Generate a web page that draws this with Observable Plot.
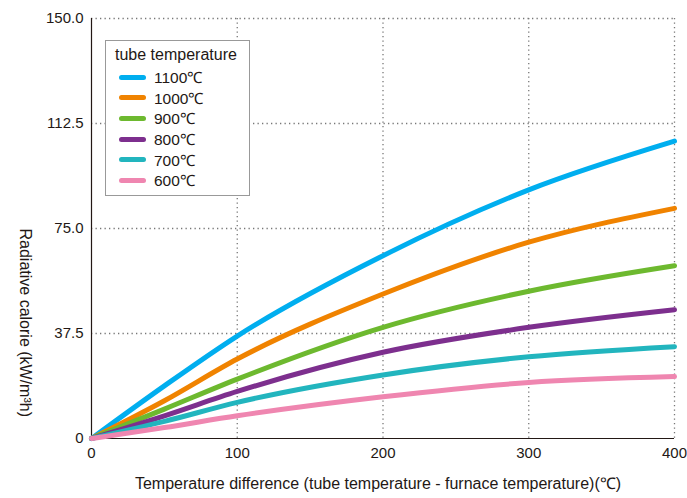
<!DOCTYPE html>
<html>
<head>
<meta charset="utf-8">
<script src="https://cdn.jsdelivr.net/npm/d3@7"></script>
<script src="https://cdn.jsdelivr.net/npm/@observablehq/plot@0.6"></script>
<style>
  html, body { margin: 0; padding: 0; background: #fff; }
  #wrap { position: relative; width: 687px; height: 498px; font-family: "Liberation Sans", Arial, sans-serif; }
  #legend { position: absolute; left: 105px; top: 40px; width: 145px; height: 156px; box-sizing: border-box;
    border: 1px solid #999; background: #fff; padding: 5px 0 0 9px; font-size: 15.5px; color: #231815; }
  #legend .title { margin-bottom: 3px; font-size: 16px; }
  #legend .row { display: flex; align-items: center; height: 20.6px; }
  #legend .sw { width: 27px; height: 5px; border-radius: 3px; margin: 0 8px 0 4px; }
</style>
</head>
<body>
<div id="wrap"></div>
<script>
const xValues = [0, 50, 100, 200, 300, 400];
const seriesNames = ["1100℃", "1000℃", "900℃", "800℃", "700℃", "600℃"];
const s1100 = [0, 18.8, 36.6, 65.3, 88.8, 106.2];
const s1000 = [0, 13.5, 28.4, 51.6, 70.1, 82.2];
const s900  = [0, 10.5, 21.2, 39.7, 52.6, 61.7];
const s800  = [0, 8.1, 16.8, 30.8, 39.7, 46.0];
const s700  = [0, 6.1, 12.9, 22.7, 29.2, 32.8];
const s600  = [0, 3.9, 8.1, 14.9, 20.0, 22.1];
const seriesColors = ["#00AEEF", "#F08300", "#6DB92F", "#7D2F8E", "#22B5BE", "#EF86B0"];
const xTicks = [0, 100, 200, 300, 400];
const yTicks = [0, 37.5, 75, 112.5, 150];
const yTickLabels = ["0", "37.5", "75.0", "112.5", "150.0"];
const legendTitle = "tube temperature";
const xTitle = "Temperature difference (tube temperature - furnace temperature)(℃)";
const yTitle = "Radiative calorie (kW/m³h)";

const allSeries = [s1100, s1000, s900, s800, s700, s600];
const data = [];
allSeries.forEach((vals, i) => vals.forEach((v, j) => data.push({series: seriesNames[i], x: xValues[j], y: v})));

const chart = Plot.plot({
  width: 687,
  height: 498,
  marginTop: 18,
  marginBottom: 60,
  marginLeft: 91,
  marginRight: 13,
  style: {fontFamily: "Liberation Sans, Arial, sans-serif", fontSize: "15px", color: "#231815", background: "#fff"},
  x: {domain: [0, 400]},
  y: {domain: [0, 150]},
  color: {domain: seriesNames, range: seriesColors},
  marks: [
    Plot.gridX(xTicks.filter(d => d > 0), {stroke: "#777", strokeOpacity: 1, strokeWidth: 1.3, strokeDasharray: "1.3,3.2"}),
    Plot.gridY(yTicks.filter(d => d > 0), {stroke: "#777", strokeOpacity: 1, strokeWidth: 1.3, strokeDasharray: "1.3,3.2"}),
    Plot.axisX(xTicks, {tickSize: 0, tickPadding: 9, label: null, fontSize: 15}),
    Plot.axisY(yTicks, {tickSize: 0, tickPadding: 8, label: null, fontSize: 15,
      tickFormat: d => yTickLabels[yTicks.indexOf(d)]}),
    Plot.ruleX([0], {stroke: "#231815", strokeWidth: 1.2}),
    Plot.ruleY([0], {stroke: "#231815", strokeWidth: 1.2, dx: 0}),
    Plot.line(data, {x: "x", y: "y", z: "series", stroke: "series", strokeWidth: 5,
      strokeLinecap: "round", strokeLinejoin: "round", curve: "monotone-x"}),
    Plot.text([xTitle], {frameAnchor: "bottom", dy: 50, dx: -5, text: d => d, fontSize: 16, fill: "#231815"}),
    Plot.text([yTitle], {frameAnchor: "left", dx: -66, rotate: 90, text: d => d, fontSize: 16, fill: "#231815"})
  ]
});

const wrap = document.getElementById("wrap");
wrap.appendChild(chart);

const legend = document.createElement("div");
legend.id = "legend";
let html = `<div class="title">${legendTitle}</div>`;
seriesNames.forEach((n, i) => {
  html += `<div class="row"><span class="sw" style="background:${seriesColors[i]}"></span><span>${n}</span></div>`;
});
legend.innerHTML = html;
wrap.appendChild(legend);
</script>
</body>
</html>
